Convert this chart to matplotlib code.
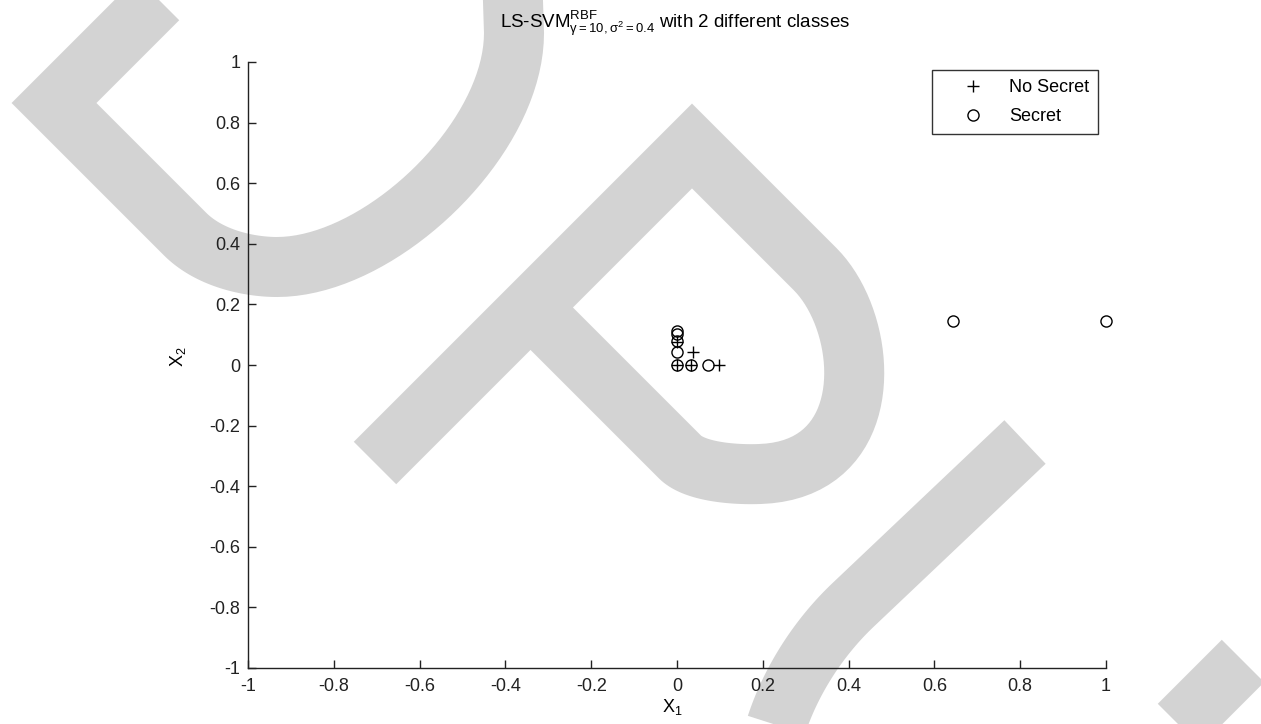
import numpy as np
import matplotlib
matplotlib.use("Agg")
import matplotlib.pyplot as plt

plt.rcParams['font.family'] = ['Liberation Sans', 'DejaVu Sans']
plt.rcParams['mathtext.fontset'] = 'custom'
plt.rcParams['mathtext.rm'] = 'Liberation Sans'
plt.rcParams['mathtext.it'] = 'Liberation Sans'
plt.rcParams['mathtext.bf'] = 'Liberation Sans:bold'

# ---- data ----
no_secret_x = [0.0, 0.0, 0.037, 0.032, 0.098]
no_secret_y = [0.075, 0.0, 0.044, 0.0, 0.0]
secret_x = [0.0, 0.0, 0.0, 0.0, 0.0, 0.032, 0.073, 0.643, 1.0]
secret_y = [0.113, 0.103, 0.078, 0.044, 0.0, 0.0, 0.0, 0.146, 0.146]
ticks = [-1, -0.8, -0.6, -0.4, -0.2, 0, 0.2, 0.4, 0.6, 0.8, 1]
tick_labels = ['-1', '-0.8', '-0.6', '-0.4', '-0.2', '0', '0.2', '0.4', '0.6', '0.8', '1']

W, H = 1261, 724
fig = plt.figure(figsize=(W / 100, H / 100), dpi=100)
fig.patch.set_facecolor('white')

# ---- background watermark (light grey strokes) ----
bg = fig.add_axes([0, 0, 1, 1], zorder=0)
bg.set_xlim(0, W)
bg.set_ylim(H, 0)
bg.axis('off')


def bez(p0, p1, p2, p3, n=40):
    t = np.linspace(0, 1, n)[:, None]
    p0, p1, p2, p3 = map(np.asarray, (p0, p1, p2, p3))
    return ((1 - t) ** 3) * p0 + 3 * (1 - t) ** 2 * t * p1 + 3 * (1 - t) * t ** 2 * p2 + t ** 3 * p3


wm_color = '#d3d3d3'
wm_lw = 60 * 0.72
strokes = [
    np.vstack([[(167, -10), (54, 103), (185, 234)],
               bez((185, 234), (210, 259), (250, 267), (277, 267)),
               bez((277, 267), (380, 267), (514, 140), (514, 33)),
               [(512, -30)]]),
    np.vstack([[(375, 463), (692, 146), (815, 269)],
               bez((815, 269), (870, 324), (880, 470), (760, 474)),
               bez((760, 474), (735, 475), (695, 472), (680, 457)),
               [(528, 305)]]),
    np.vstack([[(1025, 442), (853, 605)],
               bez((853, 605), (815, 641), (785, 690), (772, 740)),
               [(768, 770)]]),
    np.array([(1243, 661), (1138, 766)]),
]
for s in strokes:
    bg.plot(s[:, 0], s[:, 1], color=wm_color, lw=wm_lw,
            solid_capstyle='butt', solid_joinstyle='miter')

# ---- main axes ----
ax = fig.add_axes([248 / W, 1 - 668 / H, (1106 - 248) / W, (668 - 62) / H], zorder=1)
ax.patch.set_alpha(0)

ax.plot(no_secret_x, no_secret_y, linestyle='none', marker='+', color='black',
        markersize=9, markeredgewidth=1.0, label='No Secret', clip_on=False)
ax.plot(secret_x, secret_y, linestyle='none', marker='o', markerfacecolor='none',
        markeredgecolor='black', markersize=8, markeredgewidth=1.0, label='Secret',
        clip_on=False)

ax.set_xlim(-1, 1)
ax.set_ylim(-1, 1)
ax.set_xticks(ticks)
ax.set_xticklabels(tick_labels)
ax.set_yticks(ticks)
ax.set_yticklabels(tick_labels)
for side in ('top', 'right'):
    ax.spines[side].set_visible(False)
for side in ('left', 'bottom'):
    ax.spines[side].set_linewidth(1.0)
    ax.spines[side].set_color('#222222')
ax.tick_params(axis='both', direction='in', length=5.5, width=1.0, labelsize=13,
               colors='#222222')
ax.tick_params(axis='y', pad=5.5)
ax.tick_params(axis='x', pad=7.5)

leg = ax.legend(loc='upper right', bbox_to_anchor=(1098 / W, 1 - 70 / H),
                bbox_transform=fig.transFigure, borderaxespad=0, fontsize=13,
                frameon=True, fancybox=False, edgecolor='black', borderpad=0.5,
                handlelength=3.55, handletextpad=0.2, labelspacing=0.67)
leg.get_frame().set_linewidth(1.0)

fig.text(675 / W, 1 - 28 / H,
         r'LS-SVM$^{\mathrm{RBF}}_{\gamma\mathrm{=10,}\sigma^2\mathrm{=0.4}}$ with 2 different classes',
         ha='center', va='baseline', fontsize=13.5)
fig.text(672 / W, 1 - 712 / H, r'X$_1$', ha='center', va='baseline', fontsize=13)
fig.text(178 / W, 1 - 357 / H, r'X$_2$', ha='center', va='center', fontsize=13, rotation=90)

fig.savefig('out.png', dpi=100, facecolor='white')
